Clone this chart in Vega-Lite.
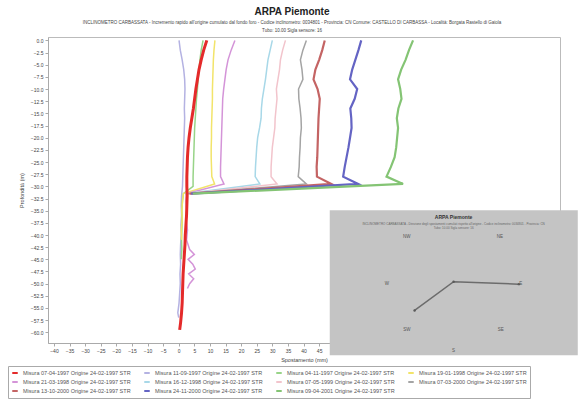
{
"$schema":"https://vega.github.io/schema/vega-lite/v6.json",
"width":512,"height":306,
"autosize":{"type":"none"},
"padding":{"left":48,"top":37,"right":24,"bottom":58},
"background":"white",
"title":{"text":"ARPA Piemonte","subtitle":["INCLINOMETRO CARBASSATA - Incremento rapido all'origine cumulato dal fondo foro - Codice inclinometro: 0034801 - Provincia: CN  Comune: CASTELLO DI CARBASSA - Località: Borgata Rastello di Gaiola","Tubo: 10.00  Sigla sensore: 16"],"font":"Liberation Sans","fontSize":10,"fontWeight":"bold","color":"#222","subtitleFont":"Liberation Sans","subtitleFontSize":4.5,"subtitleColor":"#444","subtitlePadding":3,"subtitleLineHeight":8,"offset":2,"anchor":"middle","dx":-12},
"datasets":{
"series":[
{"s":1,"name":"Misura 07-04-1997 Origine 24-02-1997 STR"},
{"s":2,"name":"Misura 11-09-1997 Origine 24-02-1997 STR"},
{"s":3,"name":"Misura 04-11-1997 Origine 24-02-1997 STR"},
{"s":4,"name":"Misura 19-01-1998 Origine 24-02-1997 STR"},
{"s":5,"name":"Misura 21-03-1998 Origine 24-02-1997 STR"},
{"s":6,"name":"Misura 16-12-1998 Origine 24-02-1997 STR"},
{"s":7,"name":"Misura 07-05-1999 Origine 24-02-1997 STR"},
{"s":8,"name":"Misura 07-03-2000 Origine 24-02-1997 STR"},
{"s":9,"name":"Misura 13-10-2000 Origine 24-02-1997 STR"},
{"s":10,"name":"Misura 24-11-2000 Origine 24-02-1997 STR"},
{"s":11,"name":"Misura 09-04-2001 Origine 24-02-1997 STR"}
],
"prof":[
{"s":1,"d":0,"v":9.0},{"s":1,"d":-2,"v":8.0},{"s":1,"d":-4,"v":7.2},{"s":1,"d":-6,"v":6.5},{"s":1,"d":-8,"v":6.0},{"s":1,"d":-10,"v":5.5},{"s":1,"d":-12,"v":5.1},{"s":1,"d":-14,"v":4.7},{"s":1,"d":-16,"v":4.2},{"s":1,"d":-18,"v":3.7},{"s":1,"d":-20,"v":3.3},{"s":1,"d":-22,"v":3.0},{"s":1,"d":-24,"v":2.8},{"s":1,"d":-26,"v":2.7},{"s":1,"d":-28,"v":2.6},{"s":1,"d":-30,"v":2.6},{"s":1,"d":-32,"v":2.7},{"s":1,"d":-34,"v":2.6},{"s":1,"d":-36,"v":2.5},{"s":1,"d":-38,"v":2.3},{"s":1,"d":-40,"v":2.1},{"s":1,"d":-42,"v":2.0},{"s":1,"d":-44,"v":1.8},{"s":1,"d":-46,"v":1.6},{"s":1,"d":-48,"v":1.4},{"s":1,"d":-50,"v":1.3},{"s":1,"d":-52,"v":1.2},{"s":1,"d":-54,"v":1.1},{"s":1,"d":-56,"v":0.9},{"s":1,"d":-58,"v":0.6},{"s":1,"d":-59.5,"v":0.3},
{"s":2,"d":0,"v":0.1},{"s":2,"d":-2,"v":0.5},{"s":2,"d":-4,"v":1.1},{"s":2,"d":-6,"v":1.6},{"s":2,"d":-8,"v":1.9},{"s":2,"d":-10,"v":2.0},{"s":2,"d":-12,"v":1.9},{"s":2,"d":-14,"v":1.8},{"s":2,"d":-16,"v":1.9},{"s":2,"d":-18,"v":1.8},{"s":2,"d":-20,"v":1.7},{"s":2,"d":-22,"v":1.6},{"s":2,"d":-24,"v":1.5},{"s":2,"d":-26,"v":1.4},{"s":2,"d":-28,"v":1.3},{"s":2,"d":-30,"v":1.2},{"s":2,"d":-32,"v":0.9},{"s":2,"d":-34,"v":0.8},{"s":2,"d":-36,"v":0.9},{"s":2,"d":-38,"v":0.7},{"s":2,"d":-40,"v":0.8},{"s":2,"d":-42,"v":0.6},{"s":2,"d":-44,"v":0.5},{"s":2,"d":-46,"v":0.6},{"s":2,"d":-48,"v":0.4},{"s":2,"d":-50,"v":0.5},{"s":2,"d":-52,"v":0.3},{"s":2,"d":-54,"v":0.1},{"s":2,"d":-56,"v":-0.3},{"s":2,"d":-57,"v":0.0},
{"s":3,"d":0,"v":7.8},{"s":3,"d":-2,"v":7.2},{"s":3,"d":-4,"v":6.8},{"s":3,"d":-6,"v":6.5},{"s":3,"d":-8,"v":6.2},{"s":3,"d":-10,"v":6.0},{"s":3,"d":-12,"v":5.7},{"s":3,"d":-14,"v":5.5},{"s":3,"d":-16,"v":5.3},{"s":3,"d":-18,"v":5.1},{"s":3,"d":-20,"v":5.0},{"s":3,"d":-22,"v":4.9},{"s":3,"d":-24,"v":4.8},{"s":3,"d":-26,"v":4.7},{"s":3,"d":-28,"v":4.6},{"s":3,"d":-30,"v":4.6},{"s":3,"d":-31.5,"v":1.5},{"s":3,"d":-33,"v":1.2},{"s":3,"d":-35,"v":1.0},{"s":3,"d":-37,"v":1.1},{"s":3,"d":-39,"v":1.0},{"s":3,"d":-41,"v":0.9},{"s":3,"d":-43,"v":1.0},{"s":3,"d":-45,"v":0.8},
{"s":4,"d":0,"v":11.6},{"s":4,"d":-2,"v":11.3},{"s":4,"d":-4,"v":11.1},{"s":4,"d":-6,"v":11.0},{"s":4,"d":-8,"v":10.9},{"s":4,"d":-10,"v":10.8},{"s":4,"d":-12,"v":10.8},{"s":4,"d":-14,"v":10.7},{"s":4,"d":-16,"v":10.6},{"s":4,"d":-18,"v":10.5},{"s":4,"d":-20,"v":10.5},{"s":4,"d":-22,"v":10.4},{"s":4,"d":-24,"v":10.4},{"s":4,"d":-26,"v":10.5},{"s":4,"d":-28,"v":10.6},{"s":4,"d":-29.5,"v":11.5},{"s":4,"d":-31.5,"v":1.5},{"s":4,"d":-33,"v":1.2},{"s":4,"d":-35,"v":1.0},{"s":4,"d":-37,"v":1.1},{"s":4,"d":-39,"v":0.8},{"s":4,"d":-41,"v":0.9},
{"s":5,"d":0,"v":18.0},{"s":5,"d":-2,"v":16.8},{"s":5,"d":-4,"v":15.8},{"s":5,"d":-6,"v":15.2},{"s":5,"d":-8,"v":14.8},{"s":5,"d":-10,"v":14.4},{"s":5,"d":-12,"v":14.1},{"s":5,"d":-14,"v":14.0},{"s":5,"d":-16,"v":13.9},{"s":5,"d":-18,"v":13.8},{"s":5,"d":-20,"v":13.7},{"s":5,"d":-22,"v":13.6},{"s":5,"d":-24,"v":13.5},{"s":5,"d":-26,"v":13.4},{"s":5,"d":-28,"v":13.4},{"s":5,"d":-29.5,"v":14.5},{"s":5,"d":-31.5,"v":2.5},{"s":5,"d":-33,"v":2.3},{"s":5,"d":-35,"v":2.6},{"s":5,"d":-37,"v":2.4},{"s":5,"d":-39,"v":2.8},{"s":5,"d":-41,"v":2.5},{"s":5,"d":-43,"v":3.5},{"s":5,"d":-44,"v":5.0},{"s":5,"d":-45,"v":3.0},{"s":5,"d":-46,"v":4.5},{"s":5,"d":-47,"v":5.3},{"s":5,"d":-48,"v":3.2},{"s":5,"d":-49,"v":4.8},{"s":5,"d":-50,"v":3.5},{"s":5,"d":-51,"v":2.8},
{"s":6,"d":0,"v":30.0},{"s":6,"d":-2,"v":29.3},{"s":6,"d":-4,"v":28.6},{"s":6,"d":-6,"v":28.2},{"s":6,"d":-8,"v":27.8},{"s":6,"d":-10,"v":27.3},{"s":6,"d":-12,"v":26.8},{"s":6,"d":-14,"v":26.5},{"s":6,"d":-16,"v":26.4},{"s":6,"d":-18,"v":25.9},{"s":6,"d":-20,"v":25.3},{"s":6,"d":-22,"v":25.0},{"s":6,"d":-24,"v":24.8},{"s":6,"d":-26,"v":24.6},{"s":6,"d":-28,"v":24.5},{"s":6,"d":-29.5,"v":26.0},{"s":6,"d":-31.5,"v":2.0},
{"s":7,"d":0,"v":34.2},{"s":7,"d":-2,"v":33.3},{"s":7,"d":-4,"v":32.6},{"s":7,"d":-6,"v":32.3},{"s":7,"d":-8,"v":31.8},{"s":7,"d":-10,"v":31.3},{"s":7,"d":-12,"v":31.5},{"s":7,"d":-14,"v":31.2},{"s":7,"d":-16,"v":30.9},{"s":7,"d":-18,"v":30.8},{"s":7,"d":-20,"v":30.4},{"s":7,"d":-22,"v":30.0},{"s":7,"d":-24,"v":29.8},{"s":7,"d":-26,"v":29.6},{"s":7,"d":-28,"v":29.6},{"s":7,"d":-29.5,"v":31.5},{"s":7,"d":-31.5,"v":2.5},
{"s":8,"d":0,"v":40.9},{"s":8,"d":-2,"v":39.8},{"s":8,"d":-4,"v":39.0},{"s":8,"d":-6,"v":39.5},{"s":8,"d":-8,"v":39.8},{"s":8,"d":-10,"v":38.4},{"s":8,"d":-12,"v":38.5},{"s":8,"d":-14,"v":38.9},{"s":8,"d":-16,"v":39.2},{"s":8,"d":-18,"v":39.3},{"s":8,"d":-20,"v":39.0},{"s":8,"d":-22,"v":38.9},{"s":8,"d":-24,"v":38.7},{"s":8,"d":-26,"v":38.6},{"s":8,"d":-28,"v":38.3},{"s":8,"d":-29.5,"v":40.9},{"s":8,"d":-31.5,"v":3.0},
{"s":9,"d":0,"v":46.8},{"s":9,"d":-2,"v":46.0},{"s":9,"d":-4,"v":45.0},{"s":9,"d":-6,"v":43.8},{"s":9,"d":-8,"v":43.2},{"s":9,"d":-10,"v":44.5},{"s":9,"d":-12,"v":45.2},{"s":9,"d":-14,"v":45.0},{"s":9,"d":-16,"v":44.8},{"s":9,"d":-18,"v":44.7},{"s":9,"d":-20,"v":44.6},{"s":9,"d":-22,"v":44.5},{"s":9,"d":-24,"v":44.4},{"s":9,"d":-26,"v":44.2},{"s":9,"d":-28,"v":44.3},{"s":9,"d":-29.5,"v":48.9},{"s":9,"d":-31.5,"v":3.5},
{"s":10,"d":0,"v":58.5},{"s":10,"d":-2,"v":57.6},{"s":10,"d":-4,"v":56.6},{"s":10,"d":-6,"v":55.6},{"s":10,"d":-8,"v":54.9},{"s":10,"d":-10,"v":57.2},{"s":10,"d":-12,"v":56.4},{"s":10,"d":-14,"v":55.0},{"s":10,"d":-16,"v":55.3},{"s":10,"d":-18,"v":55.4},{"s":10,"d":-20,"v":54.9},{"s":10,"d":-22,"v":54.4},{"s":10,"d":-24,"v":53.8},{"s":10,"d":-26,"v":53.2},{"s":10,"d":-28,"v":52.7},{"s":10,"d":-29.5,"v":57.5},{"s":10,"d":-31.5,"v":4.0},
{"s":11,"d":0,"v":75.1},{"s":11,"d":-2,"v":73.8},{"s":11,"d":-4,"v":72.7},{"s":11,"d":-6,"v":71.3},{"s":11,"d":-8,"v":70.3},{"s":11,"d":-10,"v":71.0},{"s":11,"d":-12,"v":71.4},{"s":11,"d":-14,"v":70.4},{"s":11,"d":-16,"v":69.9},{"s":11,"d":-18,"v":70.3},{"s":11,"d":-20,"v":70.0},{"s":11,"d":-22,"v":69.7},{"s":11,"d":-24,"v":69.2},{"s":11,"d":-26,"v":68.0},{"s":11,"d":-28,"v":66.6},{"s":11,"d":-29.5,"v":71.9},{"s":11,"d":-31.5,"v":4.5}
],
"insetbox":[{"v":48.4,"v2":127.9,"d":-34.9,"d2":-64.7}],
"compass":[
{"v":102.9,"d":-40.4,"t":"NE"},{"v":109.6,"d":-50.1,"t":"E"},{"v":103.2,"d":-59.6,"t":"SE"},{"v":88.1,"d":-63.8,"t":"S"},{"v":73.1,"d":-59.6,"t":"SW"},{"v":66.7,"d":-50.1,"t":"W"},{"v":73.1,"d":-40.5,"t":"NW"}
],
"dir":[{"i":1,"v":75.6,"d":-55.5},{"i":2,"v":88.1,"d":-49.6},{"i":3,"v":109.0,"d":-50.1}],
"insettitle":[{"v":88.1,"d":-36.2,"t":"ARPA Piemonte"}],
"insetsub":[{"v":88.1,"d":-37.6,"t":"INCLINOMETRO CARBASSATA - Direzione degli spostamenti cumulati rispetto all'origine - Codice inclinometro: 0034801 - Provincia: CN"},{"v":88.1,"d":-38.6,"t":"Tubo: 10.00  Sigla sensore: 16"}]
},
"encoding":{
  "x":{"field":"v","type":"quantitative","title":"Spostamento (mm)","scale":{"domain":[-41.9,122.2],"nice":false,"zero":false},"axis":{"values":[-40,-35,-30,-25,-20,-15,-10,-5,0,5,10,15,20,25,30,35,40,45,50,55,60,65,70,75,80,85,90,95,100,105,110,115,120],"format":"d","labelFlush":false,"labelOverlap":false}},
  "y":{"field":"d","type":"quantitative","title":"Profondità (m)","scale":{"domain":[-62.2,0.7],"nice":false,"zero":false},"axis":{"values":[0,-2.5,-5,-7.5,-10,-12.5,-15,-17.5,-20,-22.5,-25,-27.5,-30,-32.5,-35,-37.5,-40,-42.5,-45,-47.5,-50,-52.5,-55,-57.5,-60],"format":".1f","labelFlush":false,"labelOverlap":false}}
},
"layer":[
{"data":{"name":"prof"},
 "transform":[{"lookup":"s","from":{"data":{"name":"series"},"key":"s","fields":["name"]}},{"filter":"datum.s >= 2 && datum.s <= 8"}],
 "mark":{"type":"line","strokeWidth":1.5},
 "encoding":{
  "color":{"field":"name","type":"nominal","scale":{"domain":["Misura 07-04-1997 Origine 24-02-1997 STR","Misura 11-09-1997 Origine 24-02-1997 STR","Misura 04-11-1997 Origine 24-02-1997 STR","Misura 19-01-1998 Origine 24-02-1997 STR","Misura 21-03-1998 Origine 24-02-1997 STR","Misura 16-12-1998 Origine 24-02-1997 STR","Misura 07-05-1999 Origine 24-02-1997 STR","Misura 07-03-2000 Origine 24-02-1997 STR","Misura 13-10-2000 Origine 24-02-1997 STR","Misura 24-11-2000 Origine 24-02-1997 STR","Misura 09-04-2001 Origine 24-02-1997 STR"],"range":["#e42a2a","#b4b2e2","#98d488","#f2e46a","#d494d8","#a8d8e8","#f2c4cc","#a4a4a4","#c46464","#6464c4","#84c474"]},"legend":{"title":null}},
  "order":{"field":"d","sort":"descending"}
 }},
{"data":{"name":"prof"},
 "transform":[{"lookup":"s","from":{"data":{"name":"series"},"key":"s","fields":["name"]}},{"filter":"datum.s >= 9"}],
 "mark":{"type":"line","strokeWidth":2.2},
 "encoding":{
  "color":{"field":"name","type":"nominal"},
  "order":{"field":"d","sort":"descending"}
 }},
{"data":{"name":"prof"},
 "transform":[{"lookup":"s","from":{"data":{"name":"series"},"key":"s","fields":["name"]}},{"filter":"datum.s == 1"}],
 "mark":{"type":"line","strokeWidth":3},
 "encoding":{
  "color":{"field":"name","type":"nominal"},
  "order":{"field":"d","sort":"descending"}
 }},
{"data":{"name":"insetbox"},
 "mark":{"type":"rect","color":"#c4c4c4"},
 "encoding":{"x2":{"field":"v2"},"y2":{"field":"d2"}}},
{"data":{"name":"dir"},
 "mark":{"type":"line","color":"#6c6c6c","strokeWidth":1.5,"point":{"filled":true,"size":6,"color":"#5a5a5a"}},
 "encoding":{"order":{"field":"i"}}},
{"data":{"name":"compass"},
 "mark":{"type":"text","font":"Liberation Sans","fontSize":4.5,"color":"#555"},
 "encoding":{"text":{"field":"t"}}},
{"data":{"name":"insettitle"},
 "mark":{"type":"text","font":"Liberation Sans","fontSize":5,"fontWeight":"bold","color":"#333"},
 "encoding":{"text":{"field":"t"}}},
{"data":{"name":"insetsub"},
 "mark":{"type":"text","font":"Liberation Sans","fontSize":3,"color":"#666"},
 "encoding":{"text":{"field":"t"}}}
],
"config":{
 "font":"Liberation Sans",
 "view":{"stroke":"#bbbbbb"},
 "axis":{"labelFont":"Liberation Sans","labelFontSize":5,"labelColor":"#444","titleFont":"Liberation Sans","titleFontSize":5.5,"titleFontWeight":"normal","titleColor":"#444","domainColor":"#aaaaaa","tickColor":"#aaaaaa","tickSize":3,"grid":false,"labelPadding":2},
 "axisY":{"titlePadding":6},
 "axisX":{"titlePadding":4},
 "legend":{"orient":"none","legendX":-40,"legendY":329,"columns":4,"direction":"horizontal","symbolType":"stroke","symbolStrokeWidth":2,"symbolSize":30,"labelFont":"Liberation Sans","labelFontSize":5.5,"labelColor":"#555","labelLimit":200,"columnPadding":9,"rowPadding":1,"strokeColor":"#aaaaaa","padding":3}
}
}
